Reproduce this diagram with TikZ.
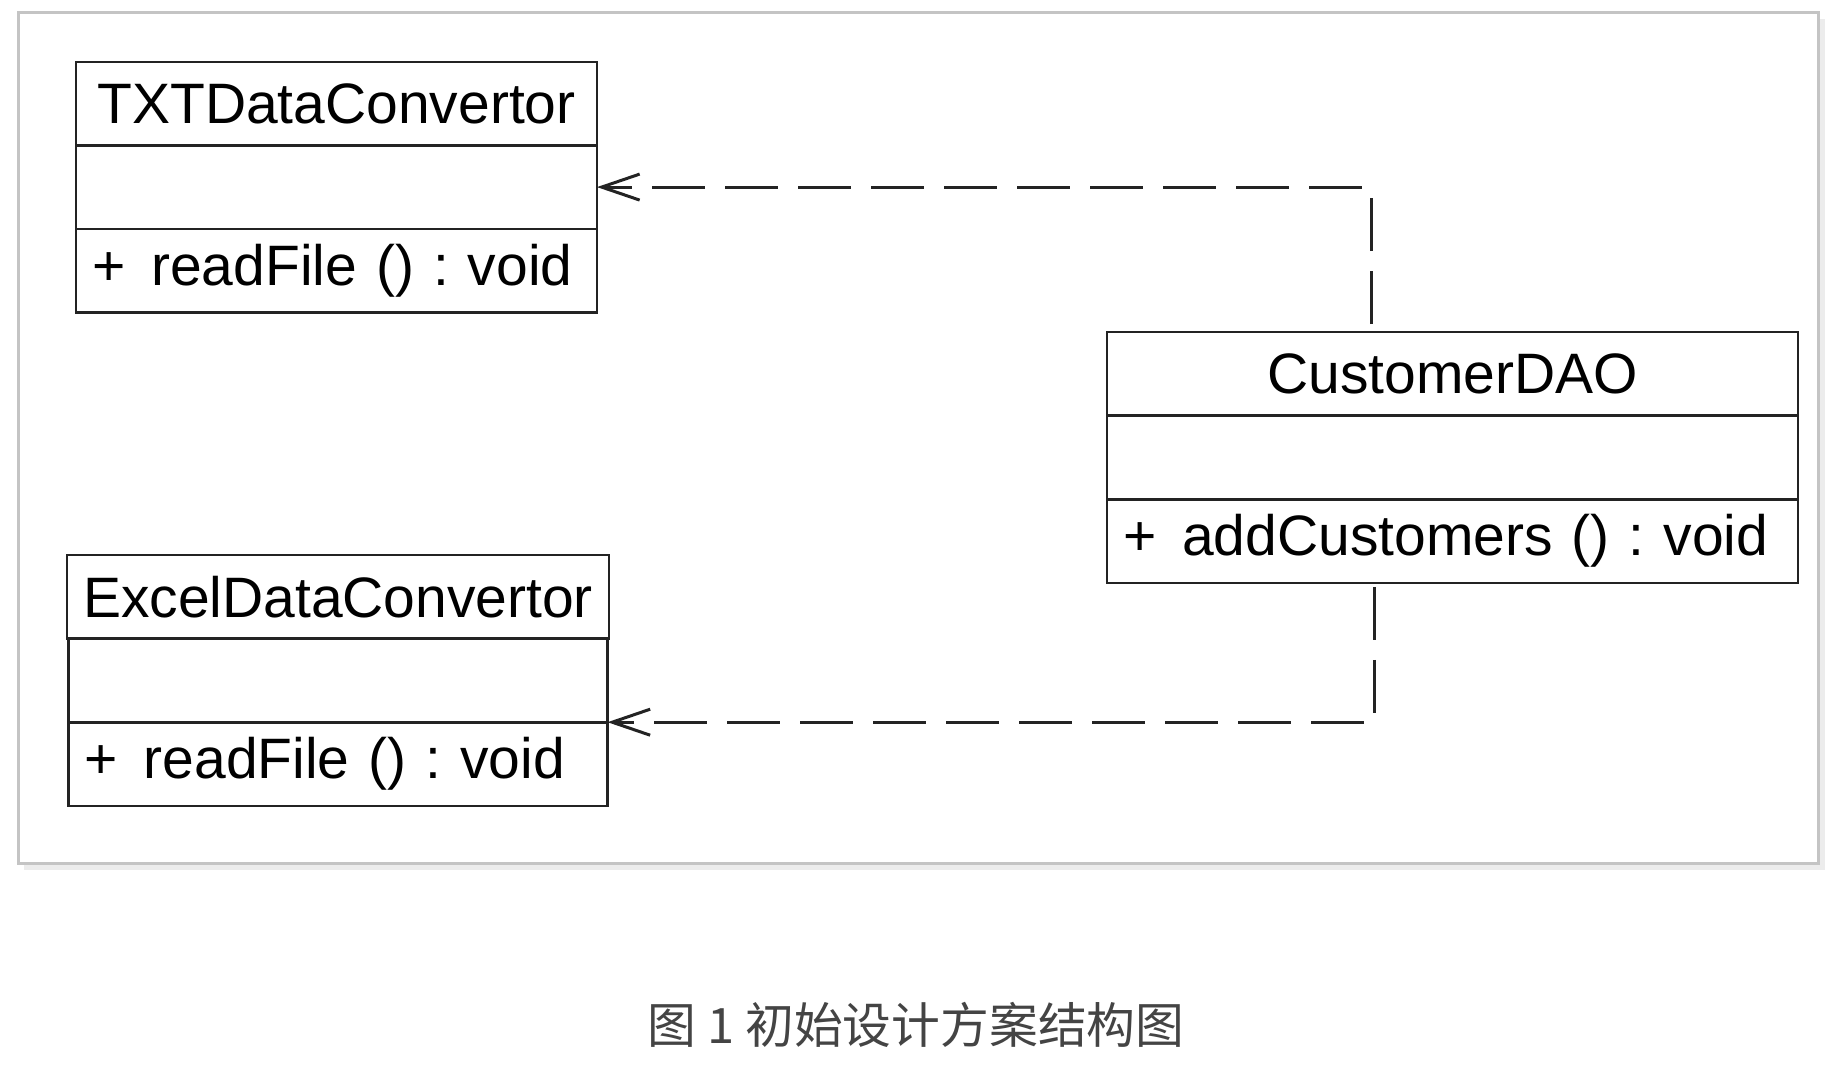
\documentclass[tikz,border=0pt]{standalone}
\usepackage{fontspec}
\setmainfont{Liberation Sans}
\newfontfamily\captionfont{Noto Sans CJK SC}
\usepackage{tikz}
\usetikzlibrary{positioning,arrows.meta}
\definecolor{UmlLineColor}{RGB}{35,35,35}
\definecolor{UmlFrameColor}{RGB}{196,196,196}
\definecolor{UmlShadowColor}{RGB}{236,236,236}
\definecolor{UmlCaptionColor}{RGB}{68,68,68}
\frenchspacing

\begin{document}
\begin{tikzpicture}[x=0.5pt,y=-0.5pt,
  umlbox/.style n args={2}{rectangle,draw=UmlLineColor,line width=1.3pt,outer sep=0pt,inner xsep=8pt,inner ysep=0pt,minimum width=#1,minimum height=#2,font=\fontsize{28.5}{34}\selectfont},
  umlop/.style n args={2}{umlbox={#1}{#2},align=left},
  dep/.style={draw=UmlLineColor,line width=1.5pt,dash pattern=on 26.5pt off 10pt,-{Straight Barb[length=19pt,width=13pt,line width=1.5pt]}}]
\useasboundingbox (0,0) rectangle (1842,1070);
% frame
\draw[UmlShadowColor,line width=3pt] (24,867) -- (1822,867) -- (1822,19);
\draw[UmlFrameColor,line width=1.5pt] (18,13) rectangle (1818,863);
% classes
\node[umlbox={260.5pt}{41.7pt},anchor=north west] (txt) at (76,62) {TXTDataConvertor};
\node[umlbox={260.5pt}{41.7pt},below=0pt of txt] (txtattr) {};
\node[umlop={260.5pt}{41.7pt},text width=244.5pt,below=0pt of txtattr] (txtop) {\mbox{+\hspace{13pt}readFile () : void}};
\node[umlbox={269.5pt}{41.8pt},anchor=north west] (excel) at (67,555) {ExcelDataConvertor};
\node[umlbox={269.5pt}{41.8pt},below=0pt of excel] (excelattr) {};
\node[umlop={269.5pt}{41.8pt},text width=253.5pt,below=0pt of excelattr] (excelop) {\mbox{+\hspace{13pt}readFile () : void}};
\node[umlbox={345.5pt}{41.8pt},anchor=north west] (dao) at (1107,332) {CustomerDAO};
\node[umlbox={345.5pt}{41.8pt},below=0pt of dao] (daoattr) {};
\node[umlop={345.5pt}{41.8pt},text width=329.5pt,below=0pt of daoattr] (daoop) {\mbox{+\hspace{13pt}addCustomers () : void}};
% dependencies
\draw[dep] ([xshift=-40.75pt,yshift=4pt]dao.north) |- (txtattr.east);
\draw[dep] ([xshift=-39pt,yshift=-2pt]daoop.south) |- (excelattr.south east);
\node[font=\captionfont\fontsize{24.4}{28}\selectfont,text=UmlCaptionColor] (caption) at (916,1025) {图 1 初始设计方案结构图};
\end{tikzpicture}
\end{document}
